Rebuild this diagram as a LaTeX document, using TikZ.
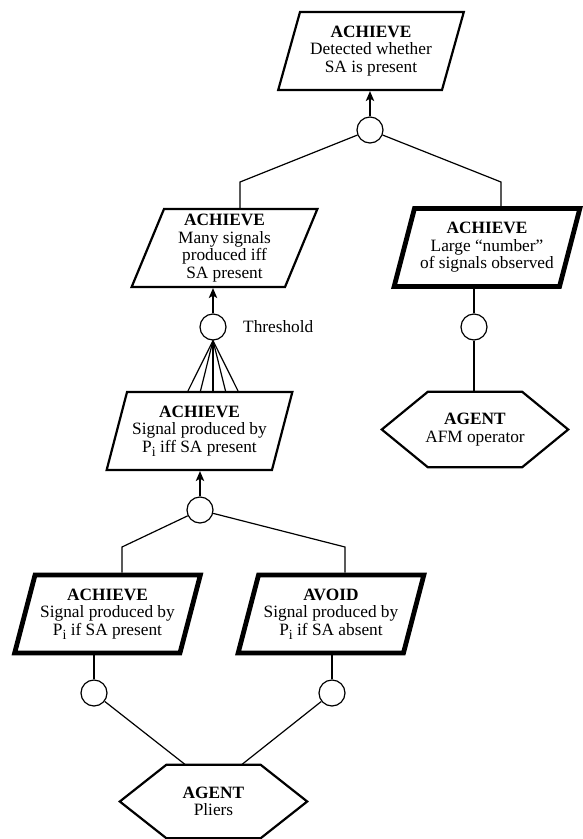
\documentclass[tikz,border=0pt]{standalone}
\usepackage{fontspec}
\setmainfont{Liberation Serif}
\usetikzlibrary{shapes.geometric,arrows.meta,calc}
\newcommand{\subi}{\raisebox{-0.25em}{\fontsize{14pt}{14pt}\selectfont i}}
\tikzset{
  txt/.style={font=\fontsize{17.3pt}{17.5pt}\selectfont},
  goal/.style={txt, trapezium, trapezium left angle=70, trapezium right angle=110,
    trapezium stretches=true, minimum width=186pt, minimum height=78pt,
    draw, line width=2.2pt, align=center, inner sep=1pt},
  thickgoal/.style={goal, line width=4.8pt},
  agent/.style={txt, rectangle, minimum height=75pt, align=center, inner sep=1pt},
  hexline/.style={line width=2.2pt, line join=miter},
  conn/.style={line width=1.2pt},
  arr/.style={line width=1.2pt, -{Stealth[length=10pt,width=8.5pt,inset=2.5pt]}},
  junc/.style={circle, draw, line width=1.2pt, minimum size=26pt, inner sep=0pt, fill=white},
}
\begin{document}
\begin{tikzpicture}[x=1pt,y=-1pt]
\useasboundingbox (0,0) rectangle (582,839);

% goals
\node[goal] (G1) at (371,51) {\textbf{ACHIEVE}\\Detected whether\\SA is present};
\node[goal] (G2) at (224.5,248) {\textbf{ACHIEVE}\\Many signals\\produced iff\\SA present};
\node[thickgoal] (G3) at (487,247.5) {\textbf{ACHIEVE}\\Large “number”\\of signals observed};
\node[goal] (G4) at (199.5,431) {\textbf{ACHIEVE}\\Signal produced by\\P\subi{} iff SA present};
\node[thickgoal] (G5) at (107.5,614) {\textbf{ACHIEVE}\\Signal produced by\\P\subi{} if SA present};
\node[thickgoal] (G6) at (331,614) {\textbf{AVOID}\\Signal produced by\\P\subi{} if SA absent};

% agents
\node[agent, minimum width=186pt] (afm) at (475,429.5) {\textbf{AGENT}\\AFM operator};
\draw[hexline] (afm.west) -- ($(afm.north west)+(46,0)$) -- ($(afm.north east)+(-46,0)$)
  -- (afm.east) -- ($(afm.south east)+(-46,0)$) -- ($(afm.south west)+(46,0)$) -- cycle;
\node[agent, minimum width=187pt, minimum height=73pt] (pl) at (213.5,801.5) {\textbf{AGENT}\\Pliers};
\draw[hexline] (pl.west) -- ($(pl.north west)+(46.5,0)$) -- ($(pl.north east)+(-46.5,0)$)
  -- (pl.east) -- ($(pl.south east)+(-46.5,0)$) -- ($(pl.south west)+(46.5,0)$) -- cycle;

% junction circles
\node[junc] (c1) at (370,130) {};
\node[junc] (ct) at (213,327) {};
\node[junc] (c3) at (474,327) {};
\node[junc] (c4) at (200,510) {};
\node[junc] (c5) at (94,693) {};
\node[junc] (c6) at (332,693) {};

\node[txt, anchor=west, inner sep=0pt] (thr) at (243,327) {Threshold};

% kinks
\coordinate (k1) at (240,182);
\coordinate (k2) at (501,182);
\coordinate (k3) at (122,547);
\coordinate (k4) at (345,547);

% connectors
\draw[arr] (c1.north) -- (c1.north |- G1.south);
\draw[conn] (c1) -- (k1) -- (k1 |- G2.north);
\draw[conn] (c1) -- (k2) -- (k2 |- G3.north);

\draw[arr] (ct.north) -- (ct.north |- G2.south);
\foreach \dx in {-25,-12.5,0,12.5,25}
  \draw[conn] (ct.south) -- ([xshift=\dx pt]ct.south |- G4.north);

\draw[conn] (c3) -- (c3 |- G3.south);
\draw[conn] (c3) -- (c3 |- afm.north);

\draw[arr] (c4.north) -- (c4.north |- G4.south);
\draw[conn] (c4) -- (k3) -- (k3 |- G5.north);
\draw[conn] (c4) -- (k4) -- (k4 |- G6.north);

\draw[conn] (c5) -- (c5 |- G5.south);
\draw[conn] (c6) -- (c6 |- G6.south);
\draw[conn] (c5) -- ($(pl.north)+(-28,0)$);
\draw[conn] (c6) -- ($(pl.north)+(28,0)$);
\end{tikzpicture}
\end{document}
